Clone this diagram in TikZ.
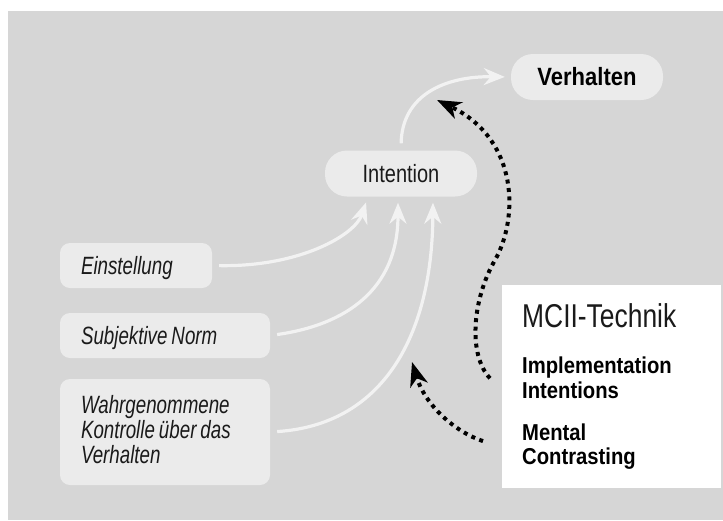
\documentclass[tikz,border=0pt]{standalone}
\usepackage{fontspec}
\setmainfont{Liberation Sans}
\newfontfamily\cnd[FakeStretch=0.8]{Liberation Sans}
\newfontfamily\cndi[FakeStretch=0.75]{Liberation Sans}
\newfontfamily\cndb[FakeStretch=0.88]{Liberation Sans}
\newcommand\wsp{\hspace{4pt}}
\usetikzlibrary{arrows.meta,calc}
\definecolor{bggray}{HTML}{D6D6D6}
\definecolor{boxgray}{HTML}{EBEBEB}
\definecolor{arrwhite}{HTML}{F2F2F2}
\definecolor{ink}{HTML}{1A1A1A}
\begin{document}
\begin{tikzpicture}[x=1pt,y=-1pt,
  lbl/.style={fill=boxgray, draw=none, rounded corners=10pt, text=ink,
    inner xsep=21pt, inner ysep=0pt, align=left,
    font=\cndi\itshape\fontsize{25}{25}\selectfont, text height=17pt},
  pill/.style={fill=boxgray, draw=none, rounded corners=22pt, text=ink,
    inner sep=0pt, minimum width=152pt, minimum height=46pt,
    text height=17pt, text depth=0pt},
  txt/.style={inner sep=0pt, anchor=base west, align=left, text=black},
  flow/.style={draw=arrwhite, line width=3.2pt,
    -{Stealth[length=21pt,width=17pt,inset=7pt]},
    shorten <=7pt, shorten >=6pt},
  dots/.style={draw=black, line width=4pt, dash pattern=on 4pt off 4.5pt,
    -{Stealth[length=24pt,width=18pt,inset=7pt]}}
]
\useasboundingbox (0,0) rectangle (723,520);
\fill[bggray] (8,11) rectangle (723,520);

% left boxes
\node[lbl, text width=110pt, minimum height=45pt, text depth=0pt] (ein) at (136,265.5) {Einstellung};
\node[lbl, text width=168pt, minimum height=45pt, text depth=0pt] (sub) at (165,335.5) {Subjektive\wsp Norm};
\node[lbl, text width=168pt, minimum height=106pt, text depth=55pt] (wah) at (165,432) {Wahrgenommene\\Kontrolle\wsp über\wsp das\\Verhalten};

% intention & behaviour
\node[pill, font=\cnd\fontsize{25}{25}\selectfont, text=ink] (int) at (401,173.5) {Intention};
\node[pill, font=\cndb\bfseries\fontsize{25}{25}\selectfont, text=black] (ver) at (587,77) {Verhalten};

% MCII box
\node[fill=white, draw=none, inner sep=0pt, minimum width=219pt, minimum height=203pt] (mcii) at (611.5,386.5) {};
\node[txt, font=\cnd\fontsize{33}{33}\selectfont, text=ink] (title) at (522,327) {MCII-Technik};
\node[txt, text width=190pt, font=\cndb\bfseries\fontsize{23}{25}\selectfont] (impl) at (522,373) {Implementation\\Intentions};
\node[txt, text width=190pt, font=\cndb\bfseries\fontsize{23}{24}\selectfont] (mental) at (522,440) {Mental\\Contrasting};

% white flow arrows
\draw[flow] (int.north) .. controls (402,95) and (445,76) .. (ver.west);
\draw[flow] (ein.east) .. controls (300,267) and (355,235) .. ([xshift=-33pt]int.south);
\draw[flow] (sub.east) .. controls (345,325) and (398,290) .. ([xshift=-3pt]int.south);
\draw[flow] (wah.east) .. controls (380,425) and (432,340) .. ([xshift=32pt]int.south);

% dotted arrows
\coordinate (t1) at (437,100);
\coordinate (t2) at (412,362);
\draw[dots] ($(impl.west)+(-32,1)$) .. controls (468,355) and (472,300) .. (495,260)
  .. controls (518,220) and (520,140) .. (t1);
\draw[dots] ($(mental.west)+(-39,-5)$) .. controls (455,432) and (425,405) .. (t2);
\end{tikzpicture}
\end{document}
